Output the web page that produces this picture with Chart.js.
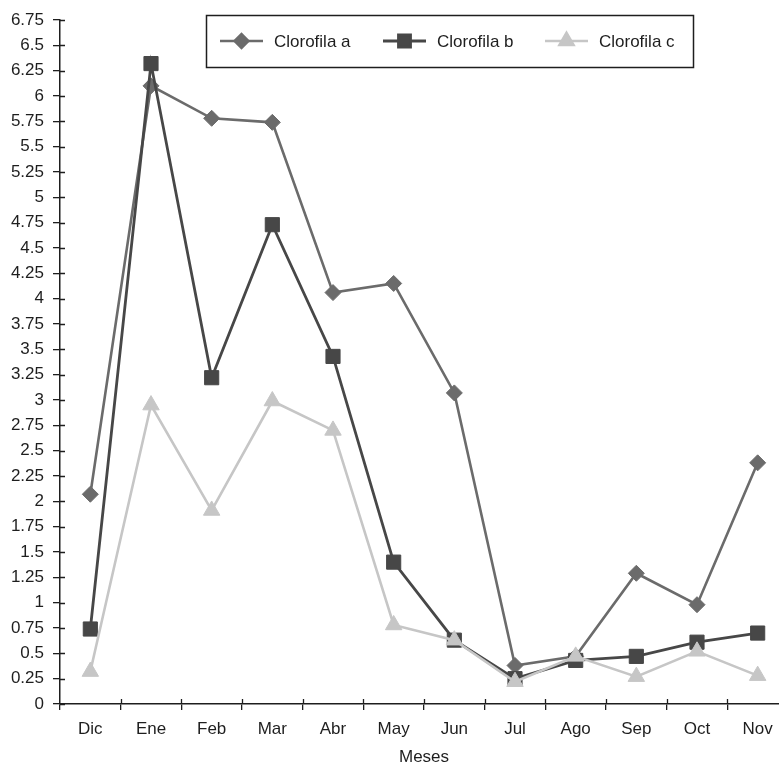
<!DOCTYPE html>
<html>
<head>
<meta charset="utf-8">
<title>Clorofila</title>
<script src="https://cdn.jsdelivr.net/npm/chart.js@4.4.1/dist/chart.umd.min.js"></script>
<style>
  html, body { margin: 0; padding: 0; background: #fff; overflow: hidden; }
  /* wider than the window on purpose: the last category runs off the right edge */
  #wrap { position: relative; width: 799px; height: 769px; }
</style>
</head>
<body>
<div id="wrap"><canvas id="chl"></canvas></div>
<script>
// monthly pigment concentrations
const months = ["Dic", "Ene", "Feb", "Mar", "Abr", "May", "Jun", "Jul", "Ago", "Sep", "Oct", "Nov"];
const chlA = [2.07, 6.1, 5.78, 5.74, 4.06, 4.15, 3.07, 0.38, 0.47, 1.29, 0.98, 2.38];
const chlB = [0.74, 6.32, 3.22, 4.73, 3.43, 1.4, 0.63, 0.25, 0.43, 0.47, 0.61, 0.7];
const chlC = [0.32, 2.95, 1.91, 2.99, 2.7, 0.78, 0.63, 0.22, 0.47, 0.27, 0.52, 0.28];
const seriesNames = ["Clorofila a", "Clorofila b", "Clorofila c"];
const yMin = 0, yMax = 6.75, yStep = 0.25;

const FONT = "'Liberation Sans', Arial, sans-serif";
const FSIZE = 17;
const ink = "#1e1e1e";

// ---------- inner half of the axis tick marks ----------
const crossTicks = {
  id: "crossTicks",
  afterDraw(chart) {
    const { ctx, chartArea, scales: { x, y } } = chart;
    ctx.save();
    ctx.strokeStyle = ink;
    ctx.lineWidth = 1.3;
    ctx.beginPath();
    y.ticks.forEach((t, i) => {
      const py = Math.round(y.getPixelForTick(i)) + 0.5;
      ctx.moveTo(chartArea.left, py);
      ctx.lineTo(chartArea.left + 5, py);
    });
    for (let i = 1; i < months.length; i++) {
      const px = Math.round((x.getPixelForValue(i - 1) + x.getPixelForValue(i)) / 2) + 0.5;
      ctx.moveTo(px, chartArea.bottom);
      ctx.lineTo(px, chartArea.bottom - 5);
    }
    ctx.stroke();
    ctx.restore();
  }
};

// ---------- boxed legend ----------
const boxLegend = {
  id: "boxLegend",
  afterDraw(chart) {
    const ctx = chart.ctx;
    const box = { x: 206, y: 15, w: 487, h: 52 };
    const starts = [220, 383, 545];
    const cy = box.y + box.h / 2;
    ctx.save();
    ctx.fillStyle = "#fff";
    ctx.fillRect(box.x, box.y, box.w, box.h);
    ctx.strokeStyle = ink;
    ctx.lineWidth = 1.5;
    ctx.strokeRect(box.x + 0.5, box.y + 0.5, box.w, box.h);

    chart.data.datasets.forEach((ds, i) => {
      const x0 = starts[i];
      ctx.strokeStyle = ds.borderColor;
      ctx.lineWidth = ds.borderWidth;
      ctx.beginPath();
      ctx.moveTo(x0, cy);
      ctx.lineTo(x0 + 43, cy);
      ctx.stroke();
      ctx.fillStyle = ds.pointBackgroundColor;
      ctx.strokeStyle = ds.pointBorderColor;
      Chart.helpers.drawPoint(ctx, {
        pointStyle: ds.pointStyle,
        radius: ds.pointRadius * 0.85,
        borderWidth: 1,
        rotation: 0
      }, x0 + 21.5, cy);
      ctx.fillStyle = ink;
      ctx.font = FSIZE + "px " + FONT;
      ctx.textBaseline = "middle";
      ctx.textAlign = "left";
      ctx.fillText(ds.label, x0 + 54, cy + 1);
    });
    ctx.restore();
  }
};

function series(label, data, color, style, radius, width, order) {
  return {
    label, data, order,
    borderColor: color,
    borderWidth: width,
    pointStyle: style,
    pointRadius: radius,
    pointHoverRadius: radius,
    pointBackgroundColor: color,
    pointBorderColor: color,
    pointBorderWidth: 1,
    tension: 0,
    fill: false
  };
}

new Chart(document.getElementById("chl"), {
  type: "line",
  data: {
    labels: months,
    datasets: [
      series(seriesNames[0], chlA, "#6b6b6b", "rectRot", 8, 2.6, 3),
      series(seriesNames[1], chlB, "#474747", "rect", 10, 2.8, 2),
      series(seriesNames[2], chlC, "#c6c6c6", "triangle", 9.5, 2.6, 1)
    ]
  },
  options: {
    responsive: true,
    maintainAspectRatio: false,
    animation: false,
    layout: { padding: { top: 20, right: 2, bottom: 0, left: 0 } },
    plugins: { legend: { display: false }, tooltip: { enabled: false } },
    scales: {
      x: {
        offset: true,
        grid: { offset: true, drawOnChartArea: false, drawTicks: true, tickLength: 6, color: ink, lineWidth: 1.3 },
        border: { color: ink, width: 1.5 },
        ticks: { color: ink, padding: 9, font: { family: FONT, size: FSIZE } },
        title: { display: true, text: "Meses", color: ink, padding: { top: 0, bottom: 1 }, font: { family: FONT, size: FSIZE } },
        afterFit(scale) { scale.height = 65; }
      },
      y: {
        min: yMin,
        max: yMax,
        grid: { drawOnChartArea: false, drawTicks: true, tickLength: 7, color: ink, lineWidth: 1.3 },
        border: { color: ink, width: 1.5 },
        ticks: {
          stepSize: yStep,
          autoSkip: false,
          color: ink,
          padding: 9,
          font: { family: FONT, size: FSIZE },
          callback: v => String(+v.toFixed(2))
        },
        afterFit(scale) { scale.width = 60; }
      }
    }
  },
  plugins: [crossTicks, boxLegend]
});
</script>
</body>
</html>
